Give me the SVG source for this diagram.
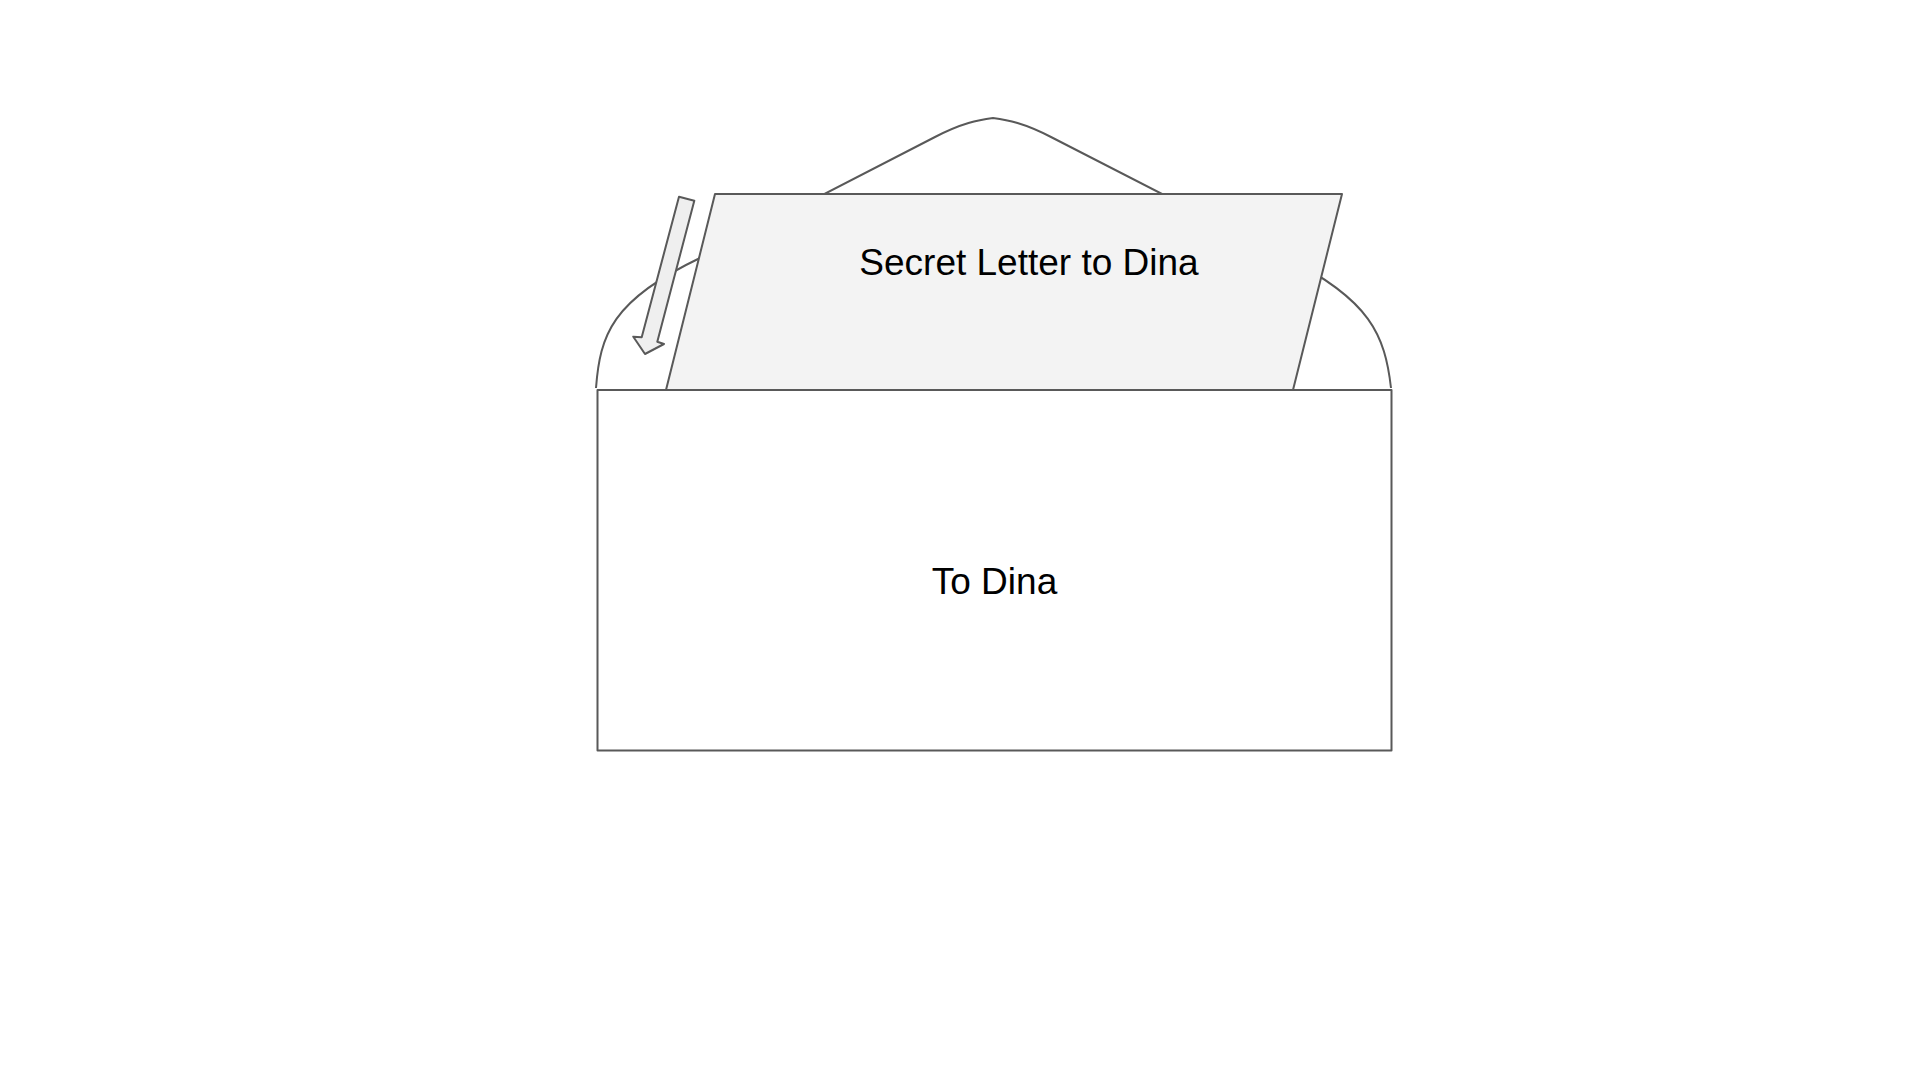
<svg xmlns="http://www.w3.org/2000/svg" width="1920" height="1080" viewBox="0 0 1920 1080">
<style>
.ln{stroke:#595959;stroke-width:2;fill:none;stroke-linejoin:round}
.txt{font-family:"Liberation Sans",Arial,sans-serif;font-size:37px;fill:#000;text-anchor:middle}
</style>
<rect width="1920" height="1080" fill="#ffffff"/>
<g id="flap">
<path class="ln" fill="#ffffff" d="M596 388 C600 335 612 300 700 258 L935 137 C962 123 978 120 993 118 C1008 120 1024 123 1051 137 L1287 258 C1370 300 1385 335 1391 388"/>
</g>
<g id="letter">
<polygon class="ln" fill="#f3f3f3" points="715,194 1342,194 1293,390 666,390" style="fill:#f3f3f3"/>
<text class="txt" x="1029" y="275">Secret Letter to Dina</text>
</g>
<g id="envelope">
<rect class="ln" x="597.5" y="390" width="794" height="360.5" style="fill:#ffffff"/>
<text class="txt" x="994.5" y="594">To Dina</text>
</g>
<g id="connectors">
<polygon class="ln" style="fill:#efefef" points="679,196.7 694.3,200.7 657.3,341.7 664,344 645,354 633.3,336.7 641.7,337.3"/>
</g>
</svg>
